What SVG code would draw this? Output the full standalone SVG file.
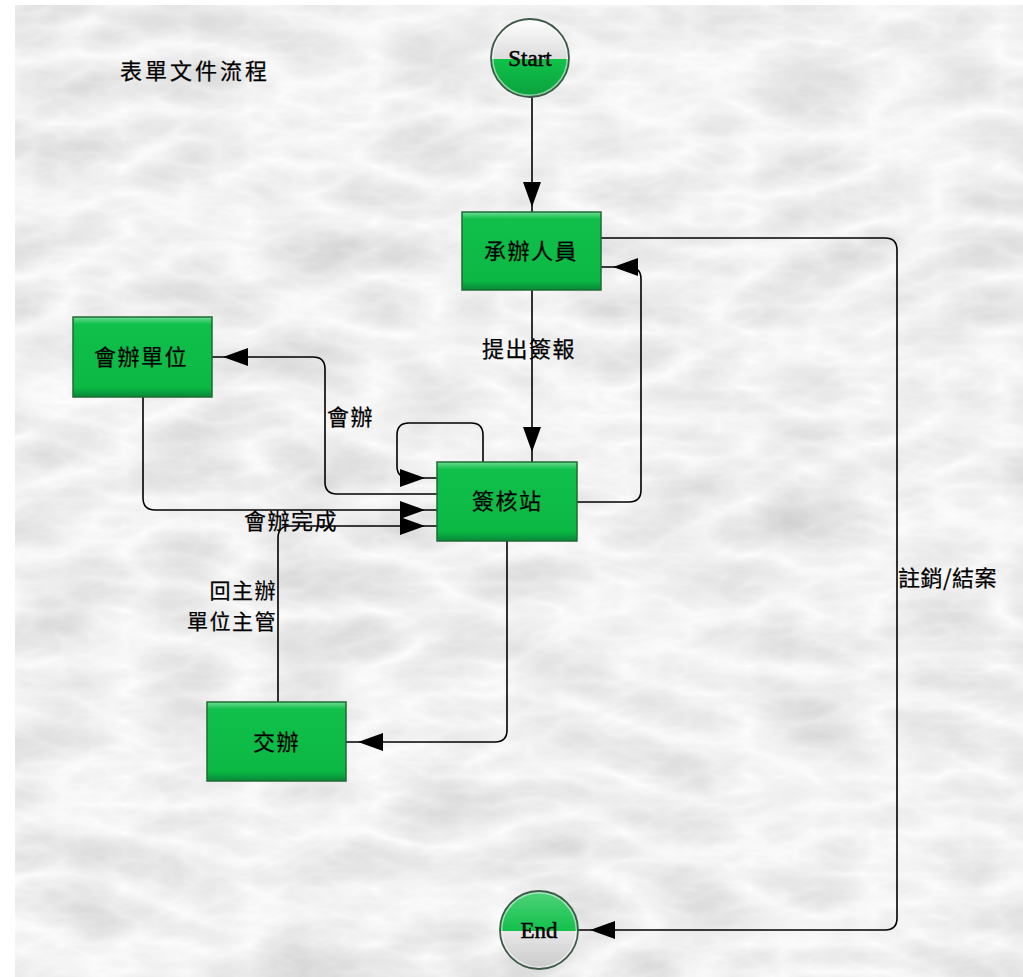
<svg xmlns="http://www.w3.org/2000/svg" width="1023" height="977" viewBox="0 0 1023 977">
<style>
.cn{font-family:"Noto Sans CJK TC","Noto Sans CJK SC",sans-serif;font-size:22px;fill:#000;letter-spacing:1.5px;stroke:#000;stroke-width:0.25px}
.lat{font-family:"Liberation Serif",serif;font-size:23px;fill:#000;text-anchor:middle;stroke:#000;stroke-width:0.5px}
.edge{fill:none;stroke:#000;stroke-width:1.6}
.box{stroke:#1f6b35;stroke-width:1.5}
</style>
<defs>
<filter id="marble" x="0" y="0" width="100%" height="100%">
<feTurbulence type="turbulence" baseFrequency="0.008 0.018" numOctaves="4" seed="11"/>
<feColorMatrix type="matrix" values="-0.35 0 0 0 0.98  -0.35 0 0 0 0.98  -0.35 0 0 0 0.98  0 0 0 0 1"/>
</filter>
<linearGradient id="gbox" x1="0" y1="0" x2="0" y2="1">
<stop offset="0" stop-color="#6fdc95"/>
<stop offset="0.09" stop-color="#10c04a"/>
<stop offset="0.88" stop-color="#0bb843"/>
<stop offset="1" stop-color="#07883a"/>
</linearGradient>
<linearGradient id="gw" x1="0" y1="0" x2="0" y2="1">
<stop offset="0" stop-color="#ffffff"/>
<stop offset="1" stop-color="#dcdcdc"/>
</linearGradient>
<linearGradient id="gg" x1="0" y1="0" x2="0" y2="1">
<stop offset="0" stop-color="#10c24a"/>
<stop offset="1" stop-color="#0a9e3c"/>
</linearGradient>
<linearGradient id="gg2" x1="0" y1="0" x2="0" y2="1">
<stop offset="0" stop-color="#52d47c"/>
<stop offset="1" stop-color="#12c04a"/>
</linearGradient>
<linearGradient id="gw2" x1="0" y1="0" x2="0" y2="1">
<stop offset="0" stop-color="#e8e8e8"/>
<stop offset="1" stop-color="#c8c8c8"/>
</linearGradient>
<polygon id="ah" points="-25,-9 0,0 -25,9"/>
</defs>
<rect x="0" y="0" width="1023" height="977" fill="#ffffff"/>
<rect x="15" y="5" width="1008" height="972" fill="#e6e6e6" filter="url(#marble)"/>

<text x="120" y="79" class="cn" style="letter-spacing:3px">表單文件流程</text>

<g id="connectors">
<path class="edge" d="M532,97 V212"/>
<use href="#ah" transform="translate(532,207) rotate(90)"/>
<path class="edge" d="M532,290 V462"/>
<use href="#ah" transform="translate(532,452) rotate(90)"/>
<path class="edge" d="M577,502 H629 Q641,502 641,490 V279 Q641,267 629,267 H601"/>
<use href="#ah" transform="translate(613,267) rotate(180)"/>
<path class="edge" d="M437,494 H337 Q325,494 325,482 V369 Q325,357 313,357 H212"/>
<use href="#ah" transform="translate(223,357) rotate(180)"/>
<path class="edge" d="M483,462 V435 Q483,423 471,423 H409 Q397,423 397,435 V466 Q397,478 409,478 H437"/>
<use href="#ah" transform="translate(425,478)"/>
<path class="edge" d="M143,397 V498 Q143,510 155,510 H437"/>
<use href="#ah" transform="translate(425,510)"/>
<path class="edge" d="M278,702 V538 Q278,526 290,526 H437"/>
<use href="#ah" transform="translate(425,526)"/>
<path class="edge" d="M507,541 V730 Q507,742 495,742 H346"/>
<use href="#ah" transform="translate(358,742) rotate(180)"/>
<path class="edge" d="M601,238 H885 Q897,238 897,250 V918 Q897,930 885,930 H578"/>
<use href="#ah" transform="translate(590,930) rotate(180)"/>
<text x="482" y="357" class="cn">提出簽報</text>
<text x="327" y="425" class="cn">會辦</text>
<text x="244" y="529" class="cn">會辦完成</text>
<text x="277" y="598" class="cn" style="text-anchor:end;font-size:21px">回主辦</text>
<text x="277" y="629" class="cn" style="text-anchor:end;font-size:21px">單位主管</text>
<text x="898" y="586" class="cn" style="letter-spacing:0.5px">註銷/結案</text>
</g>

<g id="start">
<clipPath id="cs"><circle cx="530" cy="58" r="39"/></clipPath>
<g clip-path="url(#cs)">
<rect x="490" y="18" width="80" height="41" fill="url(#gw)"/>
<rect x="490" y="59" width="80" height="40" fill="url(#gg)"/>
</g>
<circle cx="530" cy="58" r="37.5" fill="none" stroke="#ffffff" stroke-opacity="0.5" stroke-width="2"/>
<circle cx="530" cy="58" r="39" fill="none" stroke="#3d5a48" stroke-width="1.8"/>
<text x="530" y="66" class="lat">Start</text>
</g>

<g id="end">
<clipPath id="ce"><circle cx="539" cy="930" r="39"/></clipPath>
<g clip-path="url(#ce)">
<rect x="499" y="890" width="80" height="41" fill="url(#gg2)"/>
<rect x="499" y="931" width="80" height="40" fill="url(#gw2)"/>
</g>
<circle cx="539" cy="930" r="37.5" fill="none" stroke="#ffffff" stroke-opacity="0.5" stroke-width="2"/>
<circle cx="539" cy="930" r="39" fill="none" stroke="#3d5a48" stroke-width="1.8"/>
<text x="539" y="938" class="lat">End</text>
</g>

<g id="n_chengban">
<rect class="box" x="462" y="212" width="139" height="78" fill="url(#gbox)"/>
<text x="484" y="259" class="cn">承辦人員</text>
</g>

<g id="n_qianhe">
<rect class="box" x="437" y="462" width="140" height="79" fill="url(#gbox)"/>
<text x="472" y="509" class="cn">簽核站</text>
</g>

<g id="n_huiban">
<rect class="box" x="73" y="317" width="139" height="80" fill="url(#gbox)"/>
<text x="94" y="365" class="cn">會辦單位</text>
</g>

<g id="n_jiaoban">
<rect class="box" x="207" y="702" width="139" height="79" fill="url(#gbox)"/>
<text x="253" y="750" class="cn">交辦</text>
</g>
</svg>
